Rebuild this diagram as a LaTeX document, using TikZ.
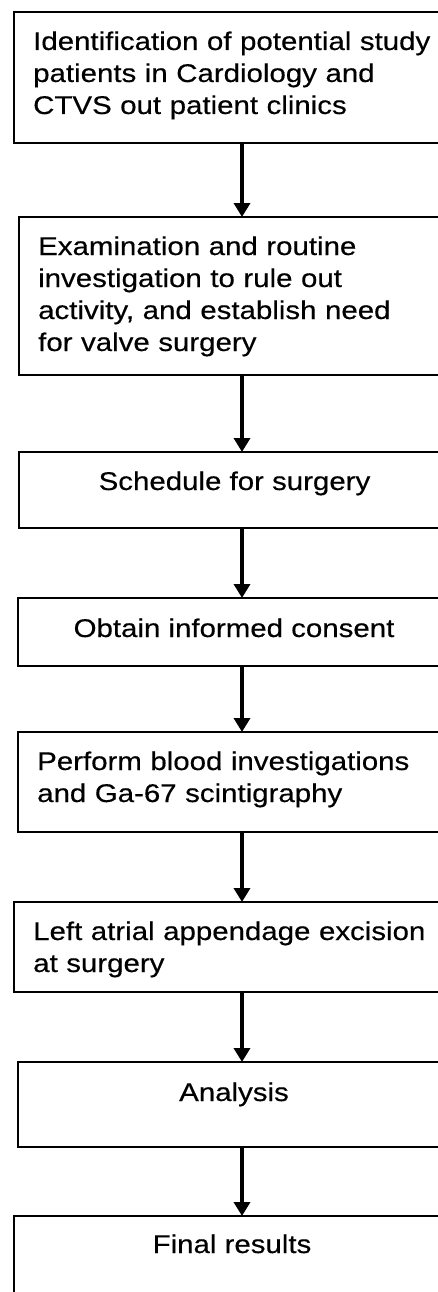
\documentclass[tikz,border=0pt]{standalone}
\usepackage{fontspec}
\setmainfont{Liberation Sans}[FakeStretch=1.15,FakeBold=0.4]
\usetikzlibrary{calc}
\usetikzlibrary{arrows.meta}

\tikzset{
	stepbox/.style={draw, line width=2.6pt, inner sep=0pt, outer sep=0pt, anchor=north west, minimum width=#1},
	stepbox/.default=431pt,
	steptext/.style={inner sep=0pt, anchor=base west, text width=430pt, align=left, font=\fontsize{25.6}{32}\selectfont},
	midtext/.style={inner sep=0pt, anchor=base, align=center, font=\fontsize{25.6}{32}\selectfont},
	flow/.style={line width=3.6pt, -{Triangle[width=16pt,length=14pt]}}
}

\begin{document}
\begin{tikzpicture}[x=1pt,y=-1pt]
			\useasboundingbox (0,0) rectangle (438,1292);
			\clip (0,0) rectangle (438,1292);

			\coordinate (axis) at (242,0);

			\node[stepbox=436pt, minimum height=131pt] (ident) at (14,12) {};
			\node[steptext] (identText) at ($(ident.north west) + (19,38)$) {Identification of potential study\\patients in Cardiology and\\CTVS out patient clinics};

			\node[stepbox, minimum height=158pt] (exam) at (19,217) {};
			\node[steptext] (examText) at ($(exam.north west) + (19,38)$) {Examination and routine\\investigation to rule out\\activity, and establish need\\for valve surgery};

			\node[stepbox, minimum height=76pt] (sched) at (19,452) {};
			\node[midtext] (schedText) at ($(sched.north) + (0,38)$) {Schedule for surgery};

			\node[stepbox=432pt, minimum height=68pt] (consent) at (18,598) {};
			\node[midtext] (consentText) at ($(consent.north) + (0,39)$) {Obtain informed consent};

			\node[stepbox=432pt, minimum height=100pt] (blood) at (18,732) {};
			\node[steptext] (bloodText) at ($(blood.north west) + (19,38)$) {Perform blood investigations\\and Ga-67 scintigraphy};

			\node[stepbox=436pt, minimum height=90pt] (excis) at (14,902) {};
			\node[steptext] (excisText) at ($(excis.north west) + (19,38)$) {Left atrial appendage excision\\at surgery};

			\node[stepbox=432pt, minimum height=85pt] (analys) at (18,1062) {};
			\node[midtext] (analysText) at ($(analys.north) + (0,39)$) {Analysis};

			\node[stepbox=436pt, minimum height=100pt] (final) at (14,1216) {};
			\node[midtext] (finalText) at ($(final.north) + (0,37)$) {Final results};

			\draw[flow] (ident.south -| axis) -- (exam.north -| axis);
			\draw[flow] (exam.south -| axis) -- (sched.north -| axis);
			\draw[flow] (sched.south -| axis) -- (consent.north -| axis);
			\draw[flow] (consent.south -| axis) -- (blood.north -| axis);
			\draw[flow] (blood.south -| axis) -- (excis.north -| axis);
			\draw[flow] (excis.south -| axis) -- (analys.north -| axis);
			\draw[flow] (analys.south -| axis) -- (final.north -| axis);

		\end{tikzpicture}
\end{document}
